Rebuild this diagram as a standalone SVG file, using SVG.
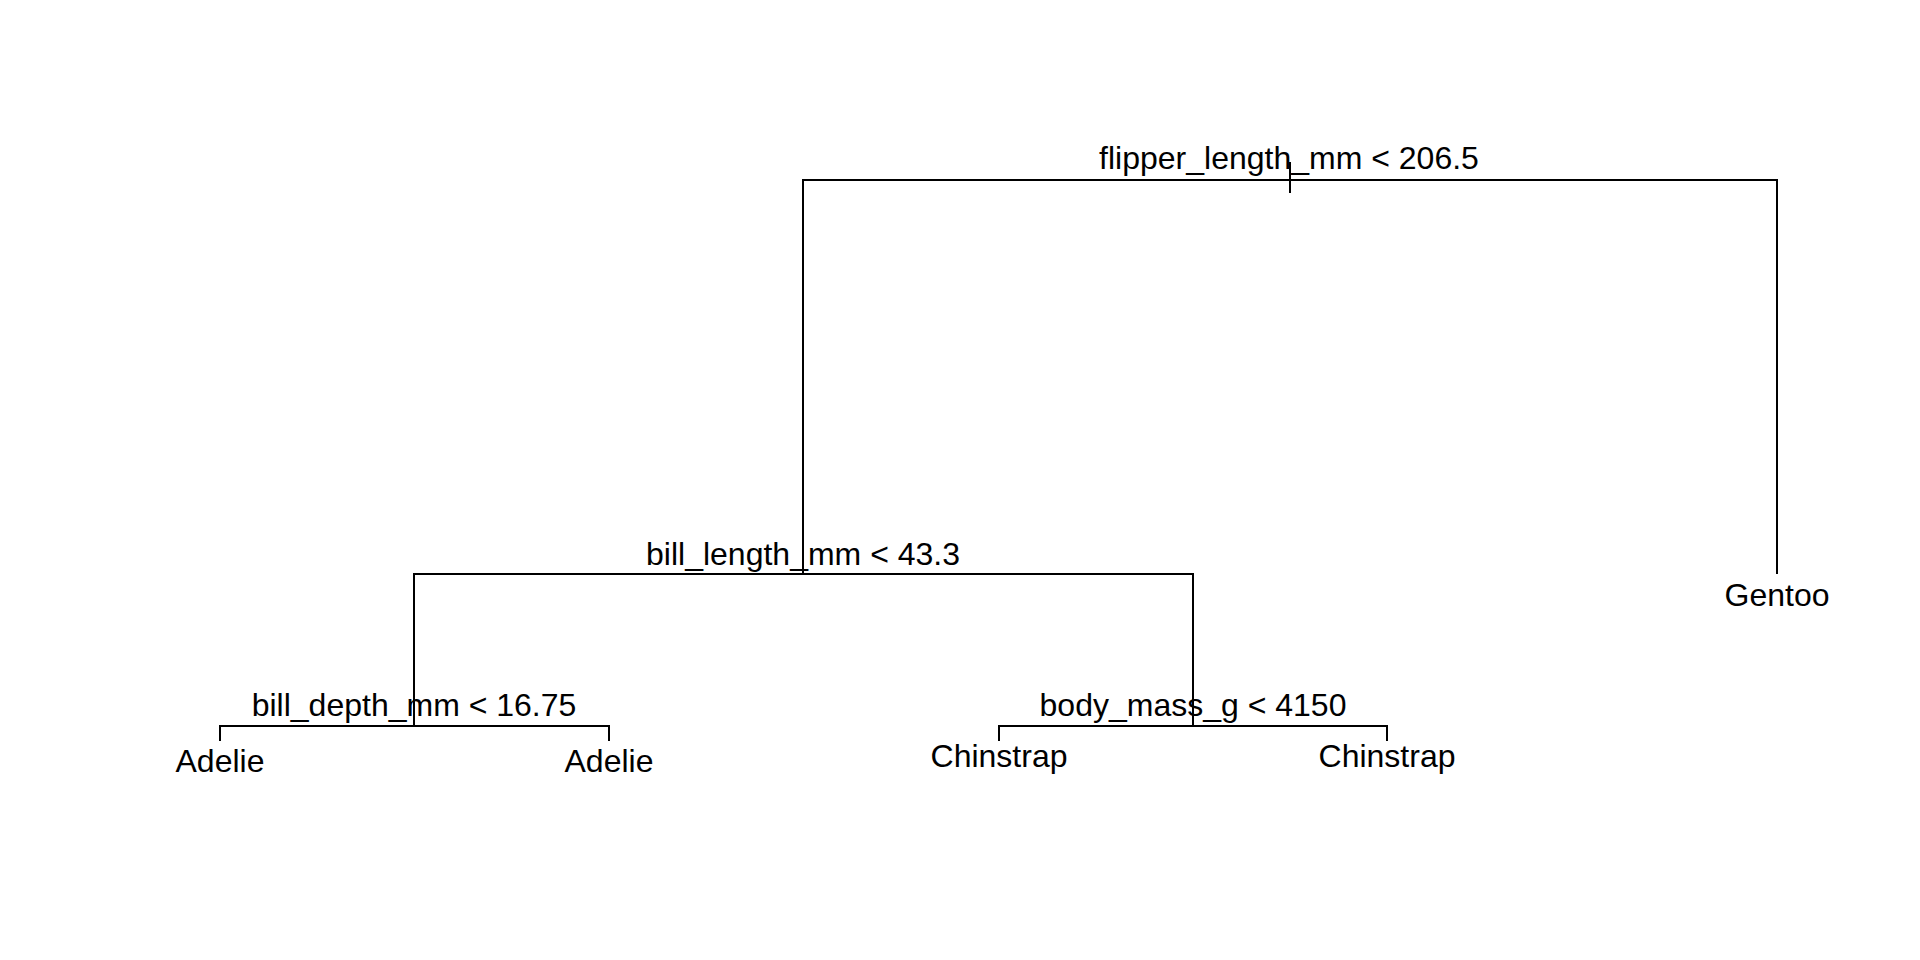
<svg xmlns="http://www.w3.org/2000/svg" width="1920" height="960" viewBox="0 0 1920 960">
<style>
.e{stroke:#000;stroke-width:2;fill:none;stroke-linecap:butt}
text{font-family:"Liberation Sans",Arial,Helvetica,sans-serif;font-size:32px;fill:#000;text-anchor:middle}
</style>
<rect width="1920" height="960" fill="#fff"/>
<g id="connectors">
<path class="e" d="M1290,162 V193"/>
<path class="e" d="M803,574 V180 H1777 V574"/>
<path class="e" d="M414,726 V574 H1193 V726"/>
<path class="e" d="M220,741 V726 H609 V741"/>
<path class="e" d="M999,741 V726 H1387 V741"/>
</g>
<g id="n-root"><text x="1289" y="169">flipper_length_mm &lt; 206.5</text></g>
<g id="n-bill-length"><text x="803" y="565">bill_length_mm &lt; 43.3</text></g>
<g id="n-gentoo"><text x="1777" y="606">Gentoo</text></g>
<g id="n-bill-depth"><text x="414" y="716">bill_depth_mm &lt; 16.75</text></g>
<g id="n-body-mass"><text x="1193" y="716">body_mass_g &lt; 4150</text></g>
<g id="n-adelie1"><text x="220" y="772">Adelie</text></g>
<g id="n-adelie2"><text x="609" y="772">Adelie</text></g>
<g id="n-chinstrap1"><text x="999" y="767">Chinstrap</text></g>
<g id="n-chinstrap2"><text x="1387" y="767">Chinstrap</text></g>
</svg>
